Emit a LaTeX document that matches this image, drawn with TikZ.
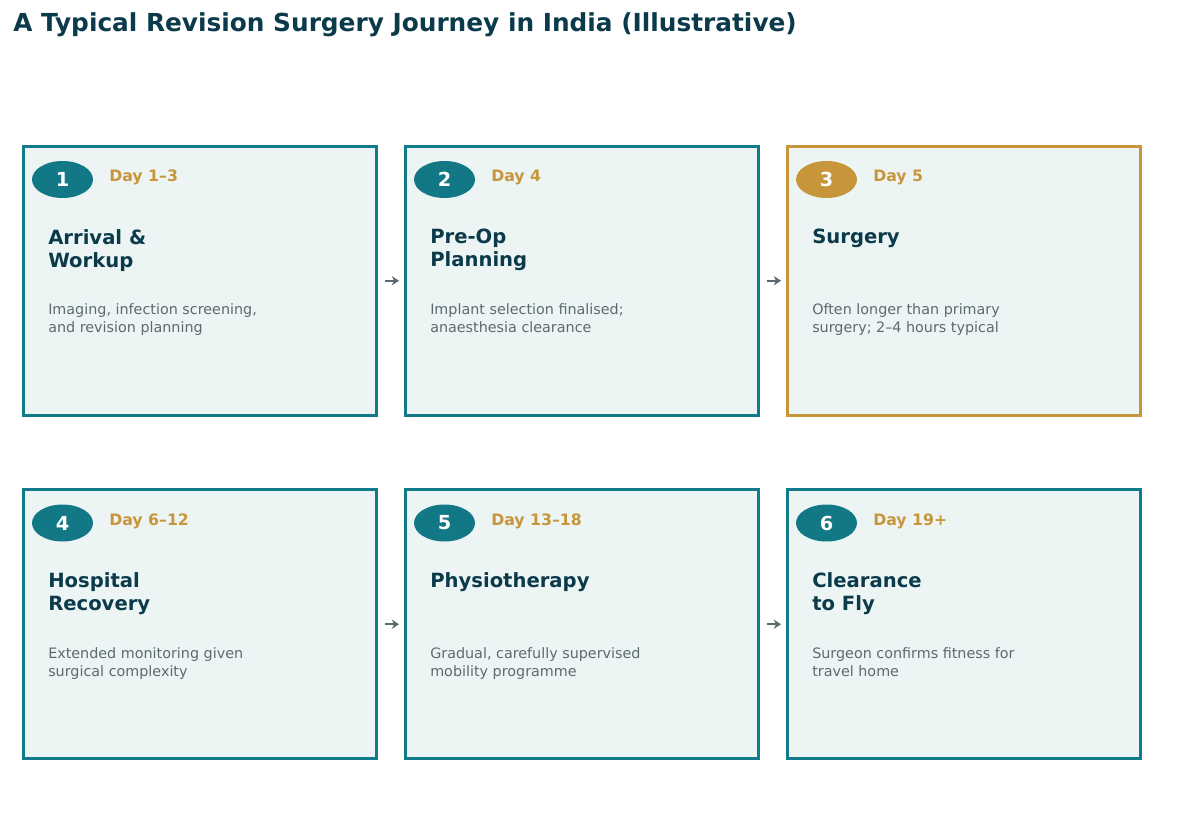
\documentclass[tikz,border=0pt]{standalone}
\usepackage{fontspec}
\setmainfont{DejaVu Sans}
\usepackage{tikz}
\usetikzlibrary{shapes,arrows.meta}

\definecolor{tealline}{HTML}{137A89}
\definecolor{tealdot}{HTML}{137886}
\definecolor{gold}{HTML}{C8963A}
\definecolor{navy}{HTML}{0B3A4B}
\definecolor{slate}{HTML}{5B6A72}
\definecolor{cardfill}{HTML}{EDF5F4}
\definecolor{arrowgray}{HTML}{5C6A6E}

\begin{document}
\begin{tikzpicture}[x=0.75pt, y=-0.75pt,
	card/.style={draw=tealline, fill=cardfill, line width=2.25pt, minimum width=264.4pt, minimum height=201.4pt, inner sep=0pt, outer sep=0pt},
	goldcard/.style={card, draw=gold},
	badge/.style={ellipse, fill=tealdot, text=white, minimum width=45.75pt, minimum height=27.75pt, inner sep=0pt, font=\fontsize{14.5}{17}\selectfont\bfseries},
	goldbadge/.style={badge, fill=gold},
	day/.style={anchor=base west, inner sep=0pt, text=gold, font=\fontsize{11.8}{14}\selectfont\bfseries},
	heading/.style={anchor=north west, inner sep=0pt, align=left, text=navy, font=\fontsize{14.7}{17.25}\selectfont\bfseries},
	body/.style={anchor=north west, inner sep=0pt, align=left, text=slate, font=\fontsize{10.75}{13.5}\selectfont},
	flow/.style={draw=arrowgray, line width=1.5pt, -{Stealth[length=5.5pt, width=7pt]}, shorten <=6.4pt, shorten >=5.2pt}]
			\useasboundingbox (0,0) rectangle (1200,817);
			% Title
			\node[anchor=base west, inner sep=0pt, text=navy, font=\fontsize{18.6}{22}\selectfont\bfseries] (title) at (13,32) {A Typical Revision Surgery Journey in India (Illustrative)};
			% Top row
			\node[card] (arrival) at (200.25,280.75) {};
			\node[card] (preop) at (582.25,280.75) {};
			\node[goldcard] (surgery) at (964.25,280.75) {};
			\node[badge] (arrivalnum) at (62.5,179.5) {1};
			\node[badge] (preopnum) at (444.5,179.5) {2};
			\node[goldbadge] (surgerynum) at (826.5,179.5) {3};
			\node[day] (arrivalday) at (109,181.5) {Day 1–3};
			\node[day] (preopday) at (491,181.5) {Day 4};
			\node[day] (surgeryday) at (873,181.5) {Day 5};
			\node[heading] (arrivalhead) at (48,229) {Arrival \&\\Workup};
			\node[heading] (preophead) at (430,229) {Pre-Op\\Planning};
			\node[heading] (surgeryhead) at (812,229) {Surgery};
			\node[body] (arrivaltext) at (48,303.5) {Imaging, infection screening,\\and revision planning};
			\node[body] (preoptext) at (430,303.5) {Implant selection finalised;\\anaesthesia clearance};
			\node[body] (surgerytext) at (812,303.5) {Often longer than primary\\surgery; 2–4 hours typical};
			% Bottom row
			\node[card] (recovery) at (200.25,624.25) {};
			\node[card] (physio) at (582.25,624.25) {};
			\node[card] (clearance) at (964.25,624.25) {};
			\node[badge] (recoverynum) at (62.5,523) {4};
			\node[badge] (physionum) at (444.5,523) {5};
			\node[badge] (clearancenum) at (826.5,523) {6};
			\node[day] (recoveryday) at (109,525) {Day 6–12};
			\node[day] (physioday) at (491,525) {Day 13–18};
			\node[day] (clearanceday) at (873,525) {Day 19+};
			\node[heading] (recoveryhead) at (48,572.5) {Hospital\\Recovery};
			\node[heading] (physiohead) at (430,572.5) {Physiotherapy};
			\node[heading] (clearancehead) at (812,572.5) {Clearance\\to Fly};
			\node[body] (recoverytext) at (48,647) {Extended monitoring given\\surgical complexity};
			\node[body] (physiotext) at (430,647) {Gradual, carefully supervised\\mobility programme};
			\node[body] (clearancetext) at (812,647) {Surgeon confirms fitness for\\travel home};
			% Arrows
			\draw[flow] (arrival.east) -- (preop.west);
			\draw[flow] (preop.east) -- (surgery.west);
			\draw[flow] (recovery.east) -- (physio.west);
			\draw[flow] (physio.east) -- (clearance.west);
\end{tikzpicture}
\end{document}
